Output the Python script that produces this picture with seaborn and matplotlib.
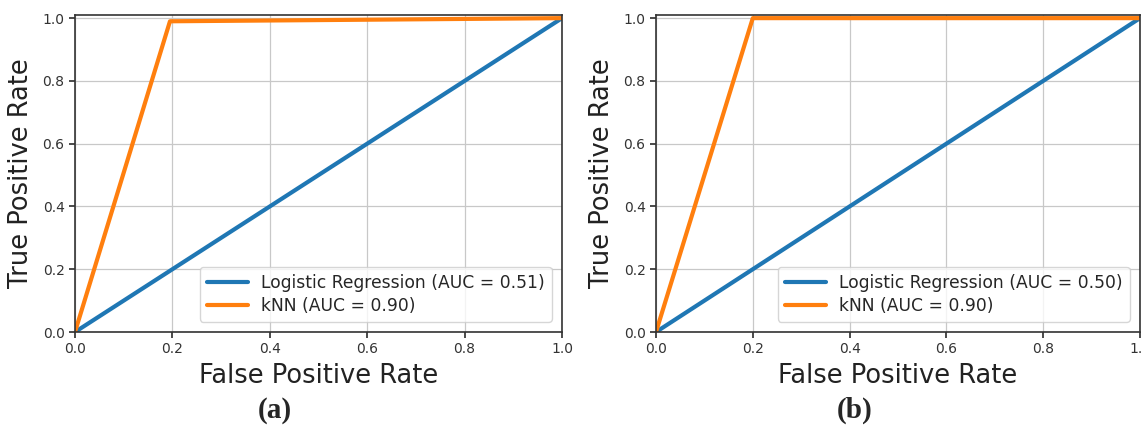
import matplotlib
matplotlib.use("Agg")
import matplotlib.pyplot as plt
import pandas as pd
import seaborn as sns

# ROC points
fpr_lr_a = [0.0, 1.0]
tpr_lr_a = [0.0, 1.0]
fpr_knn_a = [0.0, 0.195, 1.0]
tpr_knn_a = [0.0, 0.99, 1.0]

fpr_lr_b = [0.0, 1.0]
tpr_lr_b = [0.0, 1.0]
fpr_knn_b = [0.0, 0.2, 1.0]
tpr_knn_b = [0.0, 1.0, 1.0]

labels_a = ["Logistic Regression (AUC = 0.51)", "kNN (AUC = 0.90)"]
labels_b = ["Logistic Regression (AUC = 0.50)", "kNN (AUC = 0.90)"]
ticks = [0.0, 0.2, 0.4, 0.6, 0.8, 1.0]
panel_tags = ["(a)", "(b)"]


def roc_frame(fpr_lr, tpr_lr, fpr_knn, tpr_knn, labels):
    rows = []
    for x, y in zip(fpr_lr, tpr_lr):
        rows.append({"fpr": x, "tpr": y, "model": labels[0]})
    for x, y in zip(fpr_knn, tpr_knn):
        rows.append({"fpr": x, "tpr": y, "model": labels[1]})
    return pd.DataFrame(rows)


def draw_panel(ax, df, labels):
    palette = {labels[0]: "#1f77b4", labels[1]: "#ff7f0e"}
    sns.lineplot(data=df, x="fpr", y="tpr", hue="model", hue_order=labels,
                 palette=palette, linewidth=3, sort=False, ax=ax)
    ax.set_xlim(0, 1.0)
    ax.set_ylim(0, 1.01)
    ax.set_xticks(ticks)
    ax.set_yticks(ticks)
    ax.tick_params(labelsize=10, colors="#333333", length=4)
    ax.grid(True, color="#c8c8c8", linewidth=0.9)
    ax.set_axisbelow(True)
    for s in ax.spines.values():
        s.set_color("#333333")
        s.set_linewidth(1.2)
    ax.set_xlabel("False Positive Rate", fontsize=18.5, color="#222222", labelpad=5)
    ax.set_ylabel("True Positive Rate", fontsize=18.5, color="#222222", labelpad=6)
    leg = ax.legend(loc="lower right", fontsize=12.3, handlelength=2.4,
                    borderaxespad=0.6, framealpha=0.8, labelspacing=0.3)
    leg.set_title(None)
    for h in leg.get_lines():
        h.set_linewidth(3)


sns.set_theme(style="ticks")
plt.rcParams["font.family"] = ["DejaVu Sans"]

W, H = 1141, 433
fig = plt.figure(figsize=(W / 100, H / 100), dpi=100)

ax_a = fig.add_axes([75 / W, 1 - 332 / H, (562 - 75) / W, (332 - 15) / H])
ax_b = fig.add_axes([656 / W, 1 - 332 / H, (1140 - 656) / W, (332 - 15) / H])

draw_panel(ax_a, roc_frame(fpr_lr_a, tpr_lr_a, fpr_knn_a, tpr_knn_a, labels_a), labels_a)
draw_panel(ax_b, roc_frame(fpr_lr_b, tpr_lr_b, fpr_knn_b, tpr_knn_b, labels_b), labels_b)

fig.text(275 / W, 1 - 410 / H, panel_tags[0], fontsize=21, fontweight="bold",
         family="Liberation Serif", ha="center", va="center")
fig.text(855 / W, 1 - 410 / H, panel_tags[1], fontsize=21, fontweight="bold",
         family="Liberation Serif", ha="center", va="center")

fig.savefig("out.png", dpi=100)
